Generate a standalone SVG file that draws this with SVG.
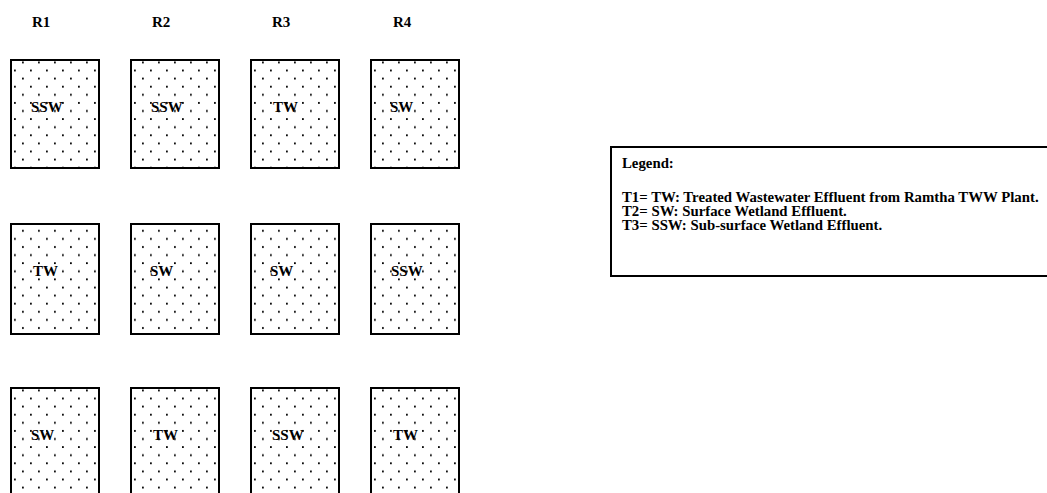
<svg xmlns="http://www.w3.org/2000/svg" width="1047" height="493" viewBox="0 0 1047 493">
<style>
.box{stroke:#000;stroke-width:2}
.lbl{font-family:"Liberation Serif",serif;font-weight:bold;font-size:15px;fill:#000}
.leg{font-family:"Liberation Serif",serif;font-weight:bold;font-size:14.8px;fill:#000}
</style>
<defs>
<pattern id="dotsA" patternUnits="userSpaceOnUse" x="0" y="0" width="16" height="16.2">
<rect width="16" height="16.2" fill="#fff"/>
<rect x="11" y="1.5" width="1.8" height="1.8" fill="#000"/>
<rect x="3" y="9.6" width="1.8" height="1.8" fill="#000"/>
</pattern>
<pattern id="dotsB" patternUnits="userSpaceOnUse" x="0" y="0" width="16" height="16.2">
<rect width="16" height="16.2" fill="#fff"/>
<rect x="11" y="5.9" width="1.8" height="1.8" fill="#000"/>
<rect x="3" y="14" width="1.8" height="1.8" fill="#000"/>
</pattern>
</defs>
<rect width="1047" height="493" fill="#fff"/>
<g id="headers">
<text class="lbl" x="32" y="27">R1</text>
<text class="lbl" x="152" y="27">R2</text>
<text class="lbl" x="272" y="27">R3</text>
<text class="lbl" x="393" y="27">R4</text>
</g>
<g id="r1c1" transform="translate(11,60)"><rect class="box" width="88" height="108" fill="url(#dotsA)"/><text class="lbl" x="20" y="52">SSW</text></g>
<g id="r1c2" transform="translate(131,60)"><rect class="box" width="88" height="108" fill="url(#dotsA)"/><text class="lbl" x="20" y="52">SSW</text></g>
<g id="r1c3" transform="translate(251,60)"><rect class="box" width="88" height="108" fill="url(#dotsA)"/><text class="lbl" x="22" y="52">TW</text></g>
<g id="r1c4" transform="translate(371,60)"><rect class="box" width="88" height="108" fill="url(#dotsA)"/><text class="lbl" x="19" y="52">SW</text></g>
<g id="r2c1" transform="translate(11,224)"><rect class="box" width="88" height="110" fill="url(#dotsB)"/><text class="lbl" x="22" y="52">TW</text></g>
<g id="r2c2" transform="translate(131,224)"><rect class="box" width="88" height="110" fill="url(#dotsB)"/><text class="lbl" x="19" y="52">SW</text></g>
<g id="r2c3" transform="translate(251,224)"><rect class="box" width="88" height="110" fill="url(#dotsB)"/><text class="lbl" x="19" y="52">SW</text></g>
<g id="r2c4" transform="translate(371,224)"><rect class="box" width="88" height="110" fill="url(#dotsB)"/><text class="lbl" x="20" y="52">SSW</text></g>
<g id="r3c1" transform="translate(11,388)"><rect class="box" width="88" height="110" fill="url(#dotsA)"/><text class="lbl" x="20" y="52">SW</text></g>
<g id="r3c2" transform="translate(131,388)"><rect class="box" width="88" height="110" fill="url(#dotsA)"/><text class="lbl" x="22" y="52">TW</text></g>
<g id="r3c3" transform="translate(251,388)"><rect class="box" width="88" height="110" fill="url(#dotsA)"/><text class="lbl" x="21" y="52">SSW</text></g>
<g id="r3c4" transform="translate(371,388)"><rect class="box" width="88" height="110" fill="url(#dotsA)"/><text class="lbl" x="22" y="52">TW</text></g>
<g id="legend">
<rect class="box" x="611" y="147" width="450" height="129" fill="#fff"/>
<text class="leg" x="622" y="168">Legend:</text>
<text class="leg" x="622" y="202">T1= TW: Treated Wastewater Effluent from Ramtha TWW Plant.</text>
<text class="leg" x="622" y="216">T2= SW: Surface Wetland Effluent.</text>
<text class="leg" x="622" y="230">T3= SSW: Sub-surface Wetland Effluent.</text>
</g>
<g id="connectors"/>
</svg>
